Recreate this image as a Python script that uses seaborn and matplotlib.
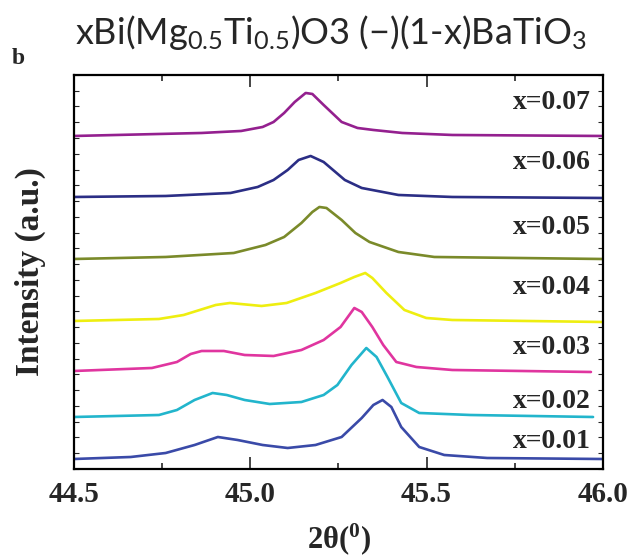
import numpy as np
import pandas as pd
import matplotlib
matplotlib.use("Agg")
import matplotlib.pyplot as plt
from matplotlib.ticker import MultipleLocator, FixedLocator
import seaborn as sns

# ---- data (stacked intensity, arbitrary units) ----
tt_07 = [44.500, 44.862, 44.974, 45.035, 45.066, 45.096, 45.126, 45.157, 45.176, 45.208, 45.259, 45.304, 45.349, 45.431, 45.573, 45.997]
I_07 = [333, 336, 338, 342, 347, 356, 367, 376, 375, 364, 347, 341, 339, 336, 334, 333]

tt_06 = [44.500, 44.760, 44.944, 45.021, 45.066, 45.106, 45.137, 45.171, 45.208, 45.268, 45.316, 45.420, 45.573, 45.997]
I_06 = [272, 273, 276, 282, 289, 299, 309, 313, 307, 289, 281, 274, 272, 271]

tt_05 = [44.500, 44.760, 44.953, 45.043, 45.096, 45.145, 45.176, 45.196, 45.216, 45.259, 45.298, 45.338, 45.420, 45.522, 45.997]
I_05 = [210, 212, 216, 224, 232, 246, 257, 262, 261, 249, 236, 227, 217, 212, 210]

tt_04 = [44.500, 44.741, 44.811, 44.902, 44.942, 45.032, 45.103, 45.185, 45.256, 45.295, 45.326, 45.346, 45.386, 45.437, 45.499, 45.573, 45.997]
I_04 = [148, 150, 154, 164, 166, 163, 166, 176, 186, 192, 196, 191, 176, 159, 151, 149, 147]

tt_03 = [44.500, 44.721, 44.792, 44.831, 44.862, 44.925, 44.984, 45.066, 45.145, 45.208, 45.256, 45.295, 45.316, 45.346, 45.377, 45.414, 45.471, 45.573, 45.966]
I_03 = [98, 101, 107, 115, 118, 118, 114, 113, 119, 129, 142, 161, 157, 142, 124, 107, 102, 99, 97]

tt_02 = [44.500, 44.741, 44.792, 44.842, 44.893, 44.933, 44.984, 45.055, 45.145, 45.208, 45.247, 45.287, 45.329, 45.358, 45.389, 45.428, 45.479, 45.624, 45.972]
I_02 = [52, 54, 59, 69, 76, 74, 69, 65, 67, 74, 84, 104, 121, 112, 92, 66, 56, 54, 52]

tt_01 = [44.500, 44.661, 44.760, 44.842, 44.908, 44.964, 45.035, 45.106, 45.185, 45.259, 45.316, 45.349, 45.375, 45.400, 45.428, 45.479, 45.550, 45.672, 45.997]
I_01 = [10, 12, 16, 24, 32, 29, 24, 21, 24, 32, 51, 64, 69, 62, 42, 22, 14, 11, 10]

labels = ["x=0.07", "x=0.06", "x=0.05", "x=0.04", "x=0.03", "x=0.02", "x=0.01"]
label_y = [366, 306, 241, 181, 121, 67, 27]
colors = ["#94208F", "#2B2E85", "#7A8A2A", "#EEEE10", "#E0359F", "#22B5CC", "#3A4AA8"]
xticks = [44.5, 45.0, 45.5, 46.0]
xticklabels = ["44.5", "45.0", "45.5", "46.0"]

series = [(tt_07, I_07), (tt_06, I_06), (tt_05, I_05), (tt_04, I_04),
          (tt_03, I_03), (tt_02, I_02), (tt_01, I_01)]
frames = []
for lab, (t, i) in zip(labels, series):
    frames.append(pd.DataFrame({"two_theta": t, "intensity": i, "sample": lab}))
df = pd.concat(frames, ignore_index=True)

sns.set_style("ticks")
plt.rcParams["mathtext.default"] = "regular"
plt.rcParams["mathtext.fontset"] = "custom"
plt.rcParams["mathtext.bf"] = "Liberation Serif:bold"
serif = ["Liberation Serif", "DejaVu Serif"]

fig = plt.figure(figsize=(6.35, 5.57), dpi=100)
ax = fig.add_axes([0.1165, 0.158, 0.833, 0.7074])

sns.lineplot(data=df, x="two_theta", y="intensity", hue="sample",
             hue_order=labels, palette=colors, sort=False, estimator=None,
             linewidth=1.9, legend=False, ax=ax)

ax.set_xlim(44.5, 46.0)
ax.set_ylim(0, 394)
ax.xaxis.set_major_locator(FixedLocator(xticks))
ax.set_xticklabels(xticklabels)
ax.xaxis.set_minor_locator(MultipleLocator(0.25))
ax.yaxis.set_major_locator(MultipleLocator(394 / 25))
ax.set_yticklabels([])
ax.tick_params(axis="x", which="major", direction="in", length=8.5, width=1.2,
               top=True, bottom=True, pad=9)
ax.tick_params(axis="x", which="minor", direction="in", length=4.5, width=1.2,
               top=True, bottom=True)
ax.tick_params(axis="y", which="major", direction="in", length=3.5, width=0.8,
               left=True, right=True)
for lbl in ax.get_xticklabels():
    lbl.set_fontfamily(serif)
    lbl.set_fontweight("bold")
    lbl.set_fontsize(21)
for s in ax.spines.values():
    s.set_linewidth(1.6)
    s.set_color("black")

ax.set_xlabel(r"2θ($^{\mathbf{0}}$)", fontsize=22, fontweight="bold", family=serif, labelpad=9)
ax.set_ylabel("Intensity (a.u.)", fontsize=24, fontweight="bold", family=serif, labelpad=17)

for lab, y in zip(labels, label_y):
    ax.text(45.966, y, lab, ha="right", va="center", fontsize=20,
            fontweight="bold", family=serif)

fig.text(331 / 635, 1 - 32 / 557, r"xBi(Mg$_{0.5}$Ti$_{0.5}$)O3 (−)(1-x)BaTiO$_{3}$",
         ha="center", va="center", fontsize=26, family=["Lato", "DejaVu Sans"])
fig.text(18 / 635, 1 - 58 / 557, "b", ha="center", va="center", fontsize=17,
         fontweight="bold", family=serif)

fig.savefig("out.png", dpi=100)
